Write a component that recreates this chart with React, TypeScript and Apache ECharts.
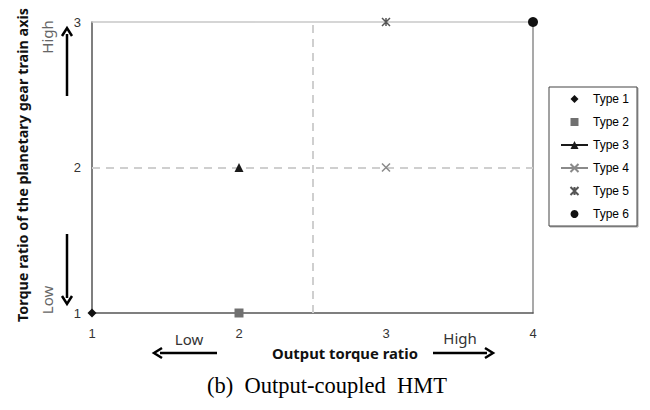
import React, { useEffect, useRef } from "react";
import * as echarts from "echarts";

// Marker positions for each configuration type
const seriesNames = ["Type 1", "Type 2", "Type 3", "Type 4", "Type 5", "Type 6"];
const outputTorqueRatio = [1, 2, 2, 3, 3, 4];
const gearTrainTorqueRatio = [1, 1, 2, 2, 3, 3];

// Divider lines between low / high regions
const dividerX = 2.5;
const dividerY = 2;

// Axis ranges
const xRange = [1, 4];
const yRange = [1, 3];

const symbols = [
  "diamond",
  "rect",
  "triangle",
  "path://M0,0L10,10M10,0L0,10",
  "path://M0,0L10,10M10,0L0,10M5,0L5,10",
  "circle",
];
const colors = ["#111111", "#707070", "#1a1a1a", "#8a8a8a", "#555555", "#111111"];
const sizes = [9, 9, 9, 8, 8, 10];
const withLine = [false, false, true, true, false, false];

const arrowLine = (x1: number, y1: number, x2: number, y2: number) => {
  const dx = x2 - x1;
  const dy = y2 - y1;
  const len = Math.sqrt(dx * dx + dy * dy);
  const ux = dx / len;
  const uy = dy / len;
  const hl = 8;
  const hw = 5;
  const bx = x2 - ux * hl;
  const by = y2 - uy * hl;
  return [
    {
      type: "line",
      shape: { x1, y1, x2: bx + ux * 2, y2: by + uy * 2 },
      style: { stroke: "#000", lineWidth: 2.5 },
    },
    {
      type: "polyline",
      shape: {
        points: [
          [bx - uy * hw, by + ux * hw],
          [x2, y2],
          [bx + uy * hw, by - ux * hw],
        ],
      },
      style: { stroke: "#000", lineWidth: 2.5, fill: "none" },
    },
  ];
};

export default function App() {
  const ref = useRef<HTMLDivElement>(null);

  useEffect(() => {
    document.body.style.margin = "0";
    if (!ref.current) return;
    const chart = echarts.init(ref.current, undefined, { renderer: "svg" });

    const series: any[] = seriesNames.map((name, i) => {
      const isPath = symbols[i].startsWith("path://");
      return {
        name,
        type: "line",
        data: [[outputTorqueRatio[i], gearTrainTorqueRatio[i]]],
        symbol: symbols[i],
        symbolSize: sizes[i],
        showSymbol: true,
        z: 5,
        lineStyle: withLine[i]
          ? { color: colors[i], width: 1.5 }
          : { color: colors[i], width: 0, opacity: 0 },
        itemStyle: isPath
          ? { color: colors[i], borderColor: colors[i], borderWidth: 1.5, opacity: 1 }
          : { color: colors[i], opacity: 1 },
      };
    });

    series.push({
      name: "dividers",
      type: "scatter",
      data: [],
      markLine: {
        silent: true,
        symbol: "none",
        label: { show: false },
        lineStyle: { color: "#cfcfcf", width: 2, type: [8, 6] },
        data: [{ xAxis: dividerX }, { yAxis: dividerY }],
      },
      z: 1,
    });

    chart.setOption({
      animation: false,
      grid: { left: 92, right: 117, top: 22, bottom: 97, show: false },
      xAxis: [
        {
          type: "value",
          min: xRange[0],
          max: xRange[1],
          interval: 1,
          axisLine: { show: true, lineStyle: { color: "#555", width: 1.5 } },
          axisTick: { show: false },
          splitLine: { show: false },
          axisLabel: {
            margin: 14,
            color: "#333",
            fontSize: 13,
            fontFamily: "Liberation Sans",
            showMinLabel: true,
            showMaxLabel: true,
          },
        },
        {
          type: "value",
          position: "top",
          min: xRange[0],
          max: xRange[1],
          interval: 1,
          axisLine: { show: true, lineStyle: { color: "#c8c8c8", width: 1.5 } },
          axisTick: { show: false },
          splitLine: { show: false },
          axisLabel: { show: false },
        },
      ],
      yAxis: [
        {
          type: "value",
          min: yRange[0],
          max: yRange[1],
          interval: 1,
          axisLine: { show: true, lineStyle: { color: "#555", width: 1.5 } },
          axisTick: { show: false },
          splitLine: { show: false },
          axisLabel: {
            margin: 11,
            color: "#333",
            fontSize: 13,
            fontFamily: "Liberation Sans",
          },
        },
        {
          type: "value",
          position: "right",
          min: yRange[0],
          max: yRange[1],
          interval: 1,
          axisLine: { show: true, lineStyle: { color: "#8c8c8c", width: 1.5 } },
          axisTick: { show: false },
          splitLine: { show: false },
          axisLabel: { show: false },
        },
      ],
      legend: {
        data: seriesNames,
        orient: "vertical",
        left: 549,
        top: 87,
        padding: [6, 8, 6, 11],
        itemWidth: 27,
        itemHeight: 10,
        itemGap: 11,
        borderColor: "#444",
        borderWidth: 1,
        backgroundColor: "#fff",
        shadowColor: "rgba(0,0,0,0.35)",
        shadowOffsetX: 1,
        shadowOffsetY: 1,
        shadowBlur: 1,
        textStyle: { color: "#000", fontSize: 12, fontFamily: "Liberation Sans" },
        selectedMode: false,
      },
      series,
      graphic: [
        {
          type: "text",
          x: 22,
          y: 165,
          rotation: Math.PI / 2,
          style: {
            text: "Torque ratio of the planetary gear train axis",
            fontSize: 14.4,
            fontWeight: "bold",
            fontFamily: "Noto Sans",
            fill: "#111",
            align: "center",
            verticalAlign: "middle",
          },
        },
        {
          type: "text",
          x: 47,
          y: 37,
          rotation: Math.PI / 2,
          style: {
            text: "High",
            fontSize: 15,
            fontFamily: "Noto Sans",
            fill: "#666",
            align: "center",
            verticalAlign: "middle",
          },
        },
        {
          type: "text",
          x: 47,
          y: 300,
          rotation: Math.PI / 2,
          style: {
            text: "Low",
            fontSize: 15,
            fontFamily: "Noto Sans",
            fill: "#666",
            align: "center",
            verticalAlign: "middle",
          },
        },
        {
          type: "text",
          x: 189,
          y: 339,
          style: {
            text: "Low",
            fontSize: 15,
            fontFamily: "Noto Sans",
            fill: "#333",
            align: "center",
            verticalAlign: "middle",
          },
        },
        {
          type: "text",
          x: 460,
          y: 338,
          style: {
            text: "High",
            fontSize: 15,
            fontFamily: "Noto Sans",
            fill: "#333",
            align: "center",
            verticalAlign: "middle",
          },
        },
        {
          type: "text",
          x: 345,
          y: 353,
          style: {
            text: "Output torque ratio",
            fontSize: 14.8,
            fontWeight: "bold",
            fontFamily: "Noto Sans",
            fill: "#111",
            align: "center",
            verticalAlign: "middle",
          },
        },
        {
          type: "text",
          x: 327,
          y: 385,
          style: {
            text: "(b)  Output-coupled  HMT",
            fontSize: 22.5,
            fontFamily: "Liberation Serif",
            fill: "#000",
            align: "center",
            verticalAlign: "middle",
          },
        },
        ...arrowLine(67, 96, 67, 28),
        ...arrowLine(67, 234, 67, 304),
        ...arrowLine(217, 353, 154, 353),
        ...arrowLine(433, 353, 493, 353),
      ],
    });

    return () => chart.dispose();
  }, []);

  return <div ref={ref} style={{ width: 650, height: 410 }} />;
}
